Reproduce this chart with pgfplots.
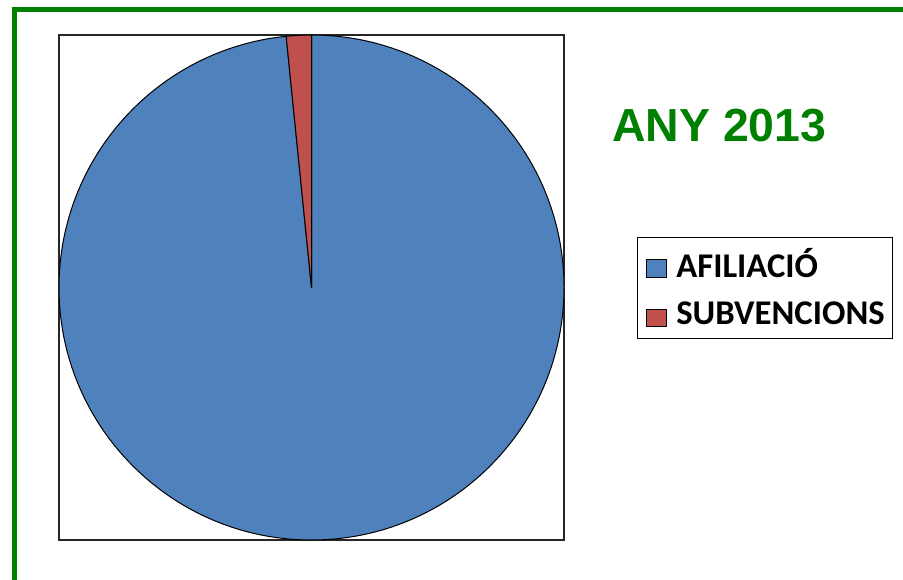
\documentclass[border=0pt]{standalone}
\usepackage{pgfplots}
\pgfplotsset{compat=1.18}
\usepackage{fontspec}
\setmainfont{Carlito}
\newfontfamily\titlefont{Liberation Sans}

\definecolor{afblue}{RGB}{79,129,189}
\definecolor{subred}{RGB}{192,80,77}
\definecolor{framegreen}{RGB}{0,128,0}

% pie values (percent)
\def\vafil{98.4}
\def\vsub{1.6}
\pgfmathsetmacro{\angA}{90-\vafil/(\vafil+\vsub)*360}

\begin{document}
\begin{tikzpicture}[x=0.75pt,y=0.75pt]
\useasboundingbox (0,0) rectangle (903,579);
% green frame (cut off at right and bottom)
\draw[framegreen, line width=3.75pt] (14.5,-10) -- (14.5,569.5) -- (920,569.5);

\begin{axis}[
    at={(44.25pt,29.25pt)}, anchor=south west,
    scale only axis,
    width=378.75pt, height=378.75pt,
    xmin=-1, xmax=1, ymin=-1, ymax=1,
    ticks=none,
    axis line style={black!85, line width=0.9pt},
    legend style={
        at={(1.1446,0.6)}, anchor=north west,
        draw=black, line width=0.75pt,
        inner xsep=6pt, inner ysep=8.5pt,
        font=\fontsize{26}{30}\bfseries\selectfont,
        nodes={inner sep=0pt},
        row sep=16pt, column sep=7.5pt,
    },
    legend cell align=left,
    legend image code/.code={\draw[#1, line width=0.6pt] (0pt,-9.5pt) rectangle (15pt,3.5pt);},
]
\filldraw[fill=afblue, draw=black, line width=0.75pt]
    (axis cs:0,0) -- (axis cs:0,1) arc[start angle=90, end angle=\angA, radius=1] -- cycle;
\filldraw[fill=subred, draw=black, line width=0.75pt]
    (axis cs:0,0) -- (axis cs:{cos(\angA)},{sin(\angA)}) arc[start angle=\angA, end angle=-270, radius=1] -- cycle;
\addlegendimage{fill=afblue, draw=black}
\addlegendentry{AFILIACIÓ}
\addlegendimage{fill=subred, draw=black}
\addlegendentry{SUBVENCIONS}
\end{axis}

\node[anchor=base west, inner sep=0pt, text=framegreen,
      font=\titlefont\bfseries\fontsize{34.8}{40}\selectfont] at (612,437) {ANY 2013};
\end{tikzpicture}
\end{document}
